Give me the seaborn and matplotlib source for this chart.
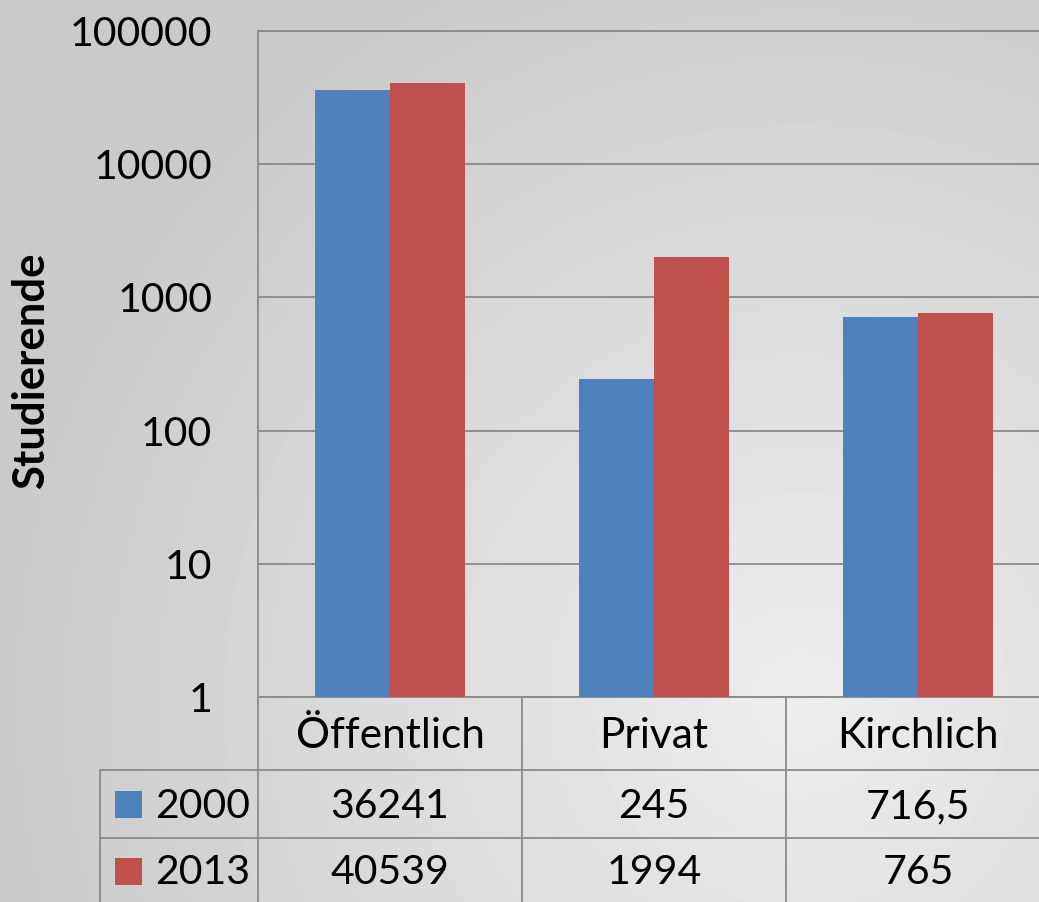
import numpy as np
import pandas as pd
import seaborn as sns
import matplotlib.pyplot as plt
from matplotlib.patches import Rectangle
from matplotlib.ticker import NullLocator

# ---- data ----
categories = ["Öffentlich", "Privat", "Kirchlich"]
years = ["2000", "2013"]
values_2000 = [36241, 245, 716.5]
values_2013 = [40539, 1994, 765]
colors = ["#4f81bd", "#c0504d"]
yticks = [1, 10, 100, 1000, 10000, 100000]
ylabel = "Studierende"

sns.set_theme(style="white")
plt.rcParams['font.family'] = ['Lato', 'DejaVu Sans']

W, H = 1039, 902
fig = plt.figure(figsize=(W / 100, H / 100), dpi=100)

# background radial gradient
bgax = fig.add_axes([0, 0, 1, 1], zorder=-10)
yy, xx = np.mgrid[0:H, 0:W]
d = np.hypot(xx - 800, yy - 700) / 1000.0
img = np.clip(0.93 - 0.17 * d, 0.79, 1)
bgax.imshow(img, cmap="gray", vmin=0, vmax=1, aspect="auto", interpolation="bilinear")
bgax.axis("off")

# ---- main bar axes ----
ax = fig.add_axes([258 / W, (H - 697) / H, 792 / W, 666 / H])
ax.set_facecolor("none")
ax.set_yscale("log")

df = pd.DataFrame({
    "Kategorie": categories * 2,
    "Jahr": [years[0]] * len(categories) + [years[1]] * len(categories),
    "Studierende": values_2000 + values_2013,
})
sns.barplot(data=df, x="Kategorie", y="Studierende", hue="Jahr", palette=colors,
            width=0.568, gap=0, saturation=1, errorbar=None, legend=False,
            edgecolor="none", ax=ax, zorder=3)

ax.set_xlim(-0.5, 2.5)
ax.set_ylim(1, 100000)
ax.set_yticks(yticks, [str(t) for t in yticks])
ax.yaxis.set_minor_locator(NullLocator())
ax.set_xticks([])
ax.set_xlabel("")
ax.set_ylabel("")
ax.tick_params(axis="y", length=0, pad=33, labelsize=29.5, labelcolor="black")
grid_c = "#8a8a8a"
ax.grid(axis="y", color=grid_c, lw=1.3)
ax.set_axisbelow(True)
for s in ["left", "top", "bottom"]:
    ax.spines[s].set_color(grid_c)
    ax.spines[s].set_linewidth(1.3)
ax.spines["right"].set_visible(False)

fig.text(31 / W, 1 - 371 / H, ylabel, rotation=90, ha="center", va="center",
         fontsize=31.5, fontweight="bold", color="black")

# ---- data table ----
tax = fig.add_axes([258 / W, (H - 906) / H, 792 / W, 209 / H])
tax.set_facecolor("none")
tax.set_xlim(-0.5, 2.5)
tax.set_ylim(209, 0)
tax.axis("off")

xl = -0.5 - 158 / 264  # left edge of label column
lk = dict(color=grid_c, lw=1.3, clip_on=False)
for yv in [73, 141]:
    tax.plot([xl, 2.5], [yv, yv], **lk)
for xv in [-0.5, 0.5, 1.5, 2.5]:
    tax.plot([xv, xv], [0, 209], **lk)
tax.plot([xl, xl], [73, 209], **lk)

fs = 29.5
for i, c in enumerate(categories):
    tax.text(i, 51, c, ha="center", va="baseline", fontsize=30.5, color="black")

def fmt(v):
    s = f"{v:g}"
    return s.replace(".", ",")

rows = [(years[0], values_2000, colors[0], 121, 94),
        (years[1], values_2013, colors[1], 187, 161)]
for yr, vals, col, base, sw_top in rows:
    tax.add_patch(Rectangle((-0.5 + (115 - 258) / 264, sw_top), 27 / 264, 27,
                            facecolor=col, edgecolor="none", clip_on=False))
    tax.text(-0.5 + (155 - 258) / 264, base, yr, ha="left", va="baseline",
             fontsize=fs, color="black")
    for i, v in enumerate(vals):
        tax.text(i, base, fmt(v), ha="center", va="baseline", fontsize=fs, color="black")

fig.savefig("out.png", dpi=100)
